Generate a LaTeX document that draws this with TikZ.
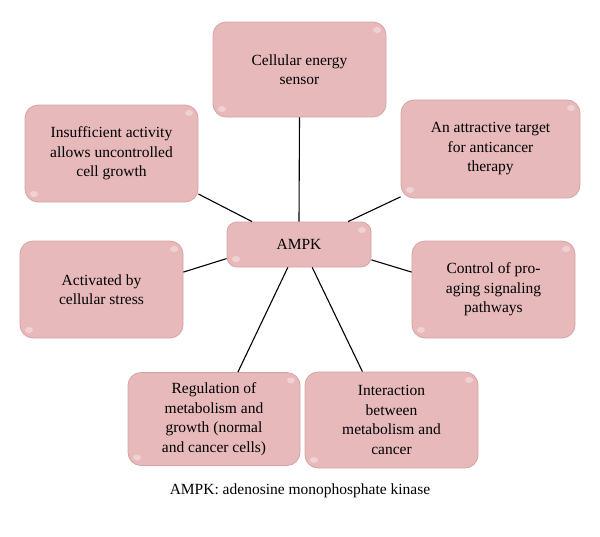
\documentclass[tikz,border=0pt]{standalone}
\usepackage{fontspec}
\setmainfont{Liberation Serif}
\usetikzlibrary{calc}
\definecolor{boxfill}{RGB}{231,185,186}
\definecolor{boxline}{RGB}{214,163,165}
\tikzset{
  card/.style={draw=boxline, line width=0.8pt, fill=boxfill, rounded corners=13pt,
    align=center, font=\fontsize{15.5}{19.5}\selectfont, inner sep=2pt,
    path picture={
      \fill[white,opacity=0.35] ($(path picture bounding box.north east)+(-9pt,-8pt)$) ellipse (4pt and 3pt);
      \fill[white,opacity=0.35] ($(path picture bounding box.south west)+(9pt,8pt)$) ellipse (4pt and 3pt);
    }},
  link/.style={draw=black, line width=1.1pt}
}
\begin{document}
\begin{tikzpicture}[x=1pt,y=-1pt]
\useasboundingbox (0,0) rectangle (600,536);
\node[card, minimum width=173pt, minimum height=95pt] (top) at (299.5,69.5) {Cellular energy\\sensor};
\node[card, minimum width=173pt, minimum height=97pt] (tl) at (111.5,153.5) {Insufficient activity\\allows uncontrolled\\cell growth};
\node[card, minimum width=179pt, minimum height=98pt] (tr) at (490.5,149) {An attractive target\\for anticancer\\therapy};
\node[card, minimum width=163pt, minimum height=97pt] (ml) at (101.5,289.5) {Activated by\\cellular stress};
\node[card, minimum width=163pt, minimum height=97pt] (mr) at (493.5,289.5) {Control of pro-\\aging signaling\\pathways};
\node[card, minimum width=172pt, minimum height=93pt] (bl) at (214,419) {Regulation of\\metabolism and\\growth (normal\\and cancer cells)};
\node[card, minimum width=173pt, minimum height=96pt] (br) at (391.5,420) {Interaction\\between\\metabolism and\\cancer};
\node[card, minimum width=144pt, minimum height=45pt, rounded corners=10pt] (ampk) at (299,244.5) {AMPK};
\draw[link] (top.south) -- (ampk.north);
\draw[link] (ampk.154) -- (tl.-25);
\draw[link] (ampk.25) -- (tr.208);
\draw[link] (ampk.191) -- (ml.12);
\draw[link] (ampk.-12) -- (mr.168);
\draw[link] (ampk.244) -- (bl.63);
\draw[link] (ampk.-60) -- (br.121);
\node[font=\fontsize{15.5}{18}\selectfont] (cap) at (300,491) {AMPK: adenosine monophosphate kinase};
\end{tikzpicture}
\end{document}
